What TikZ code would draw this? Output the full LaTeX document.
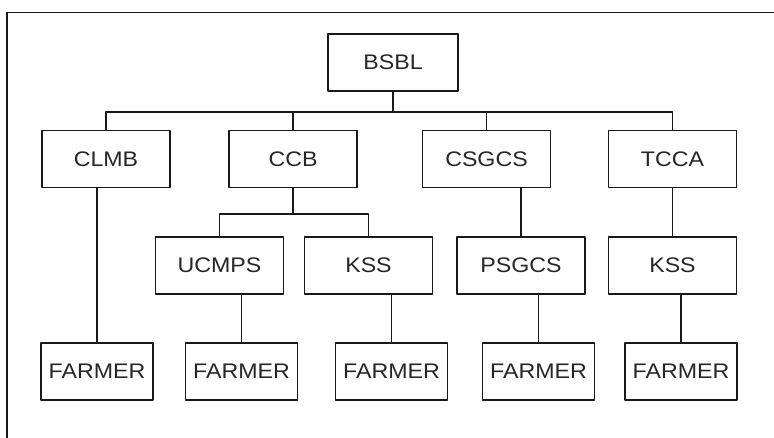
\documentclass[tikz,border=0pt]{standalone}
\usepackage{fontspec}
\setmainfont{Liberation Sans}
\usepackage{graphicx}
\tikzset{
    orgbox/.style={
        draw=black!90, line width=0.8pt,
        minimum width=3.2cm, minimum height=1.425cm, inner sep=0pt,
        text=black!85, font=\fontsize{15}{17}\selectfont
    },
    farmerbox/.style={orgbox, minimum width=2.8cm},
    orgline/.style={draw=black!90, line width=0.8pt}
}
\newcommand{\orglabel}[1]{\scalebox{1.1}[1]{#1}}
\begin{document}
\begin{tikzpicture}
        [line cap=round, line join=round]
\useasboundingbox (0,0) rectangle (19.35,-10.95);
% open frame
\draw[orgline, line width=1pt] (0.175,-10.95) -- (0.175,-0.31) -- (19.35,-0.31);
% top
\node[orgbox, minimum width=3.25cm] (bsbl) at (9.825,-1.5625) {\orglabel{BSBL}};
% first row
\node[orgbox] (clmb)  at (2.65,-3.975)    {\orglabel{CLMB}};
\node[orgbox] (ccb)   at (7.325,-3.975)   {\orglabel{CCB}};
\node[orgbox] (csgcs) at (12.1625,-3.975) {\orglabel{CSGCS}};
\node[orgbox] (tcca)  at (16.8125,-3.975) {\orglabel{TCCA}};
% second row
\node[orgbox] (ucmps) at (5.4875,-6.6375)  {\orglabel{UCMPS}};
\node[orgbox] (kss)   at (9.2125,-6.6375)  {\orglabel{KSS}};
\node[orgbox] (psgcs) at (13.025,-6.6375)  {\orglabel{PSGCS}};
\node[orgbox] (kssb)  at (16.8125,-6.6375) {\orglabel{KSS}};
% farmers
\node[farmerbox] (fa) at (2.425,-9.2875)   {\orglabel{FARMER}};
\node[farmerbox] (fb) at (6.0375,-9.2875)  {\orglabel{FARMER}};
\node[farmerbox] (fc) at (9.7875,-9.2875)  {\orglabel{FARMER}};
\node[farmerbox] (fd) at (13.4625,-9.2875) {\orglabel{FARMER}};
\node[farmerbox] (fe) at (17.025,-9.2875)  {\orglabel{FARMER}};
% buses
\coordinate (bus) at (0,-2.8);
\coordinate (subbus) at (0,-5.35);
\draw[orgline] (bsbl.south) -- (bsbl.south |- bus);
\draw[orgline] (clmb.north) -- (clmb.north |- bus) -- (tcca.north |- bus) -- (tcca.north);
\foreach \n in {ccb,csgcs}
    \draw[orgline] (\n.north) -- (\n.north |- bus);
\draw[orgline] (ccb.south) -- (ccb.south |- subbus);
\draw[orgline] (ucmps.north) -- (ucmps.north |- subbus) -- (kss.north |- subbus) -- (kss.north);
% straight drops
\foreach \a/\b in {csgcs/psgcs,tcca/kssb,clmb/fa,ucmps/fb,kss/fc,psgcs/fd,kssb/fe}
    \draw[orgline] (\a.south -| \b.north) -- (\b.north);
\end{tikzpicture}
\end{document}
